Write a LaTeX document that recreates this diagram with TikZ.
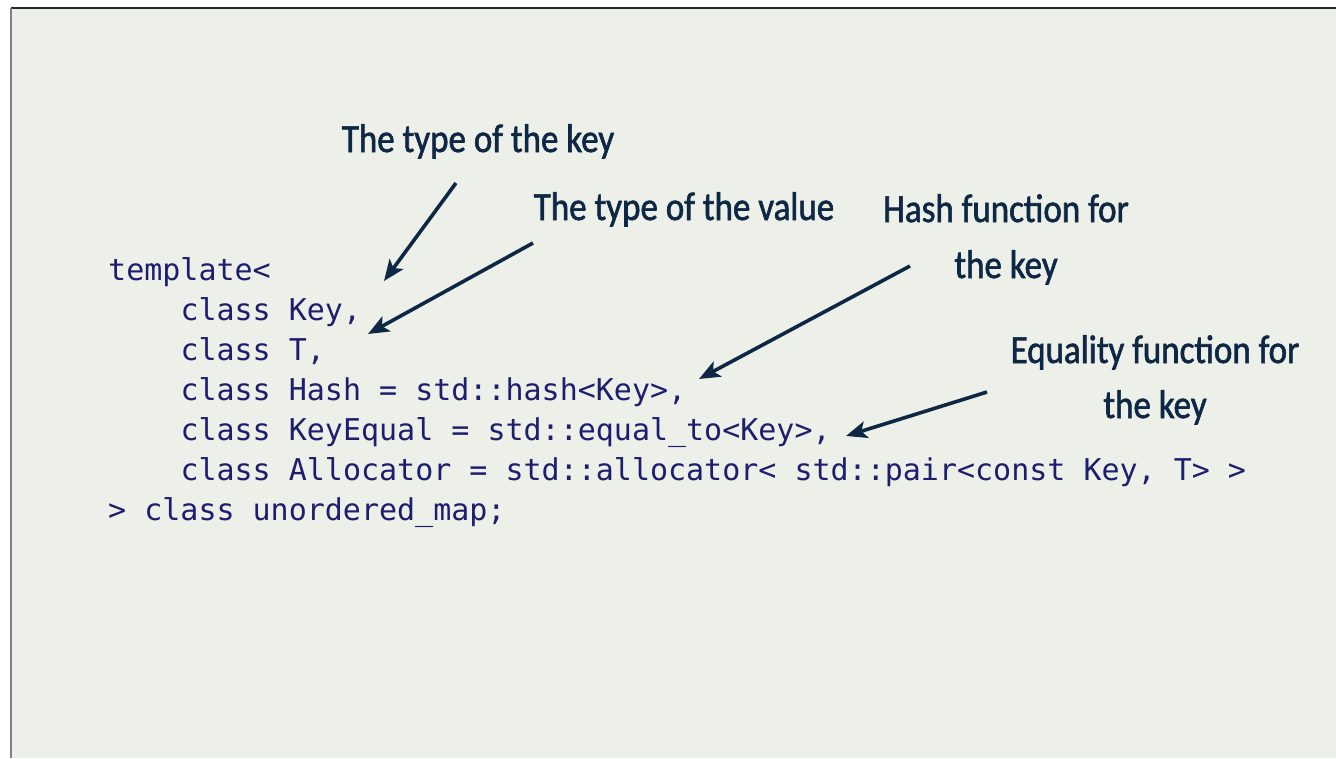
\documentclass[tikz,border=0pt]{standalone}
\usepackage{fontspec}
\usetikzlibrary{arrows.meta}
\newfontfamily\codefont{DejaVu Sans Mono}
\newfontfamily\handfont[FakeStretch=0.875,FakeBold=1.5]{Carlito}
\definecolor{slidebg}{HTML}{EDF0E8}
\definecolor{codeink}{HTML}{1E1E6E}
\definecolor{noteink}{HTML}{0E2745}
\tikzset{
  codeline/.style={anchor=base west, inner sep=0pt, text=codeink,
    font=\codefont\fontsize{30}{40}\selectfont},
  note/.style={anchor=base, inner sep=0pt, text=noteink,
    font=\handfont\fontsize{40}{56}\selectfont},
  pointer/.style={draw=noteink, line width=3.6pt,
    -{Stealth[length=21pt,width=17pt,inset=5pt]}}
}
\begin{document}
\begin{tikzpicture}[x=1pt,y=-1pt]
\useasboundingbox (0,0) rectangle (1336,758);
\fill[white] (0,0) rectangle (1336,758);
% slide area with its top and left edges
\fill[slidebg] (11,8) rectangle (1336,758);
\draw[black!85, line width=1.2pt] (11,8) -- (1336,8);
\draw[black!50, line width=1.6pt] (11,8) -- (11,758);

% code
\node[codeline] (l1) at (108,280) {template<};
\node[codeline] (l2) at (180.3,320) {class Key,};
\node[codeline] (l3) at (180.3,360) {class T,};
\node[codeline] (l4) at (180.3,400) {class Hash = std::hash<Key>,};
\node[codeline] (l5) at (180.3,440) {class KeyEqual = std::equal\_to<Key>,};
\node[codeline] (l6) at (180.3,480) {class Allocator = std::allocator< std::pair<const Key, T> >};
\node[codeline] (l7) at (108,520) {> class unordered\_map;};

% annotations
\node[note] (n1) at (478,152) {The type of the key};
\node[note] (n2) at (684,220) {The type of the value};
\node[note] (n3a) at (1006,222) {Hash function for};
\node[note] (n3b) at (1006,278) {the key};
\node[note] (n4a) at (1155,363) {Equality function for};
\node[note] (n4b) at (1155,418) {the key};

% arrow ends
\coordinate (s1) at (456,183);
\coordinate (e1) at (384,281);
\coordinate (s2) at (533,243);
\coordinate (e2) at (368,334);
\coordinate (s3) at (910,266);
\coordinate (e3) at (699,379);
\coordinate (s4) at (987,392);
\coordinate (e4) at (846,436);

\draw[pointer] (s1) -- (e1);
\draw[pointer] (s2) -- (e2);
\draw[pointer] (s3) -- (e3);
\draw[pointer] (s4) -- (e4);
\end{tikzpicture}
\end{document}
